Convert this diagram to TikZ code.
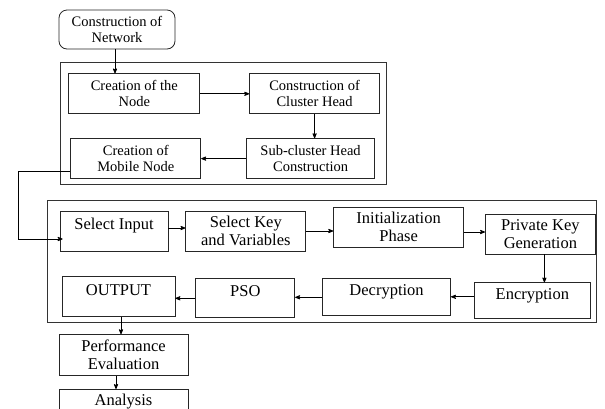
\documentclass[tikz,border=0pt]{standalone}
\usepackage{fontspec}
\setmainfont{Liberation Serif}
\usetikzlibrary{arrows,positioning,calc}
\tikzset{
	%Define standard arrow tip
	>=stealth',
	%Define style for boxes
	stage/.style={
		rectangle,
		draw=black!85, line width=0.8pt,
		inner sep=0pt,
		minimum height=40pt,
		align=center},
	topbox/.style={stage, font=\fontsize{14.5}{16}\selectfont},
	botbox/.style={stage, font=\fontsize{16.5}{18}\selectfont},
	onerow/.style={text depth=14pt},
	% Define frame style
	frame/.style={draw=black!80, line width=0.9pt},
	% Define arrow style
	flow/.style={->, line width=0.8pt}
}

\begin{document}
\begin{tikzpicture}[x=1pt,y=-1pt]
	\useasboundingbox (0,0) rectangle (605,408);
	% node Network
	\node[topbox, rounded corners=8pt, minimum width=116pt, minimum height=39pt] (net) at (117,29.5) {Construction of\\Network};
	% upper frame
	\draw[frame] (60,62) rectangle (386,184);
	% node Creation of the Node
	\node[topbox, minimum width=131pt, below right=24pt and -107pt of net] (crnode) {Creation of the\\Node};
	% node Cluster Head
	\node[topbox, minimum width=130pt, right=49pt of crnode] (clhead) {Construction of\\Cluster Head};
	% node Sub-cluster
	\node[topbox, minimum width=128pt, below=24pt of clhead, xshift=-4pt] (subcl) {Sub-cluster Head\\Construction};
	% node Mobile Node
	\node[topbox, minimum width=130pt, left=45pt of subcl] (mobile) {Creation of\\Mobile Node};
	% lower frame
	\draw[frame] (47,200) rectangle (596,322);
	% node Select Input
	\node[botbox, onerow, minimum width=108pt] (input) at (114,231) {Select Input};
	% node Select Key
	\node[botbox, minimum width=120pt, right=17pt of input] (selkey) {Select Key\\and Variables};
	% node Initialization
	\node[botbox, minimum width=130pt, right=27pt of selkey, yshift=4pt] (init) {Initialization\\Phase};
	% node Private Key
	\node[botbox, minimum width=110pt, right=21pt of init, yshift=-7pt] (privkey) {Private Key\\Generation};
	% node Encryption
	\node[botbox, onerow, minimum width=116pt, minimum height=36pt, below=28pt of privkey, xshift=-8pt] (encr) {Encryption};
	% node Decryption
	\node[botbox, onerow, minimum width=128pt, minimum height=37pt, left=23pt of encr, yshift=3.5pt] (decr) {Decryption};
	% node PSO
	\node[botbox, onerow, minimum width=99pt, minimum height=39pt, left=27pt of decr, yshift=-1pt] (pso) {PSO};
	% node OUTPUT
	\node[botbox, onerow, minimum width=113pt, left=20pt of pso, yshift=1.5pt] (output) {OUTPUT};
	% node Performance
	\node[botbox, minimum width=129pt, minimum height=41pt, below=17pt of output, xshift=5pt] (perf) {Performance\\Evaluation};
	% node Analysis
	\node[botbox, onerow, text depth=19pt, minimum width=129pt, below=13pt of perf] (analysis) {Analysis};
	\draw[flow] ([xshift=-2pt]net.south) -- ([xshift=-2pt]net.south |- crnode.north);
	\draw[flow] (crnode.east) -- (clhead.west);
	\draw[flow] (clhead.south) -- (clhead.south |- subcl.north);
	\draw[flow] (subcl.west) -- (subcl.west -| mobile.east);
	\draw[flow] ([yshift=-13pt]mobile.west) -- ++(-52,0) |- ([yshift=-8pt,xshift=3pt]input.west);
	\draw[flow] ([yshift=3pt]input.east) -- ([yshift=3pt]input.east -| selkey.west);
	\draw[flow] (selkey.east) -- (selkey.east -| init.west);
	\draw[flow] ([yshift=-5pt]init.east) -- ([yshift=-5pt]init.east -| privkey.west);
	\draw[flow] ([xshift=4pt]privkey.south) -- ([xshift=4pt]privkey.south |- encr.north);
	\draw[flow] ([yshift=4pt]encr.west) -- ([yshift=4pt]encr.west -| decr.east);
	\draw[flow] (decr.west) -- (decr.west -| pso.east);
	\draw[flow] (pso.west) -- (pso.west -| output.east);
	\draw[flow] ([xshift=2.5pt]output.south) -- ([xshift=2.5pt]output.south |- perf.north);
	\draw[flow] ([xshift=-7.5pt]perf.south) -- ([xshift=-7.5pt]perf.south |- analysis.north);
\end{tikzpicture}
\end{document}
